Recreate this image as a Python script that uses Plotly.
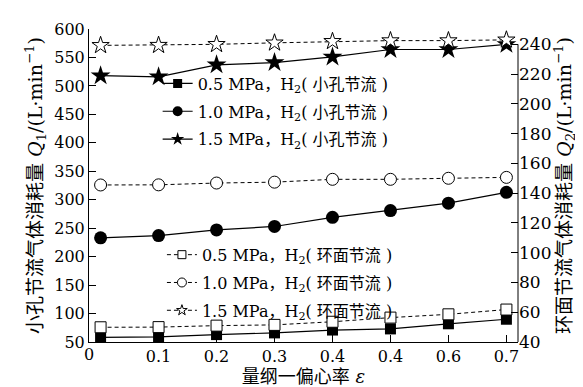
import plotly.graph_objects as go

# ---- data ----
eps_pos = [0, 1, 2, 3, 4, 5, 6, 7]
eps_labels = ["0", "0.1", "0.2", "0.3", "0.4", "0.4", "0.6", "0.7"]

orifice_05 = [58, 59, 63, 66, 71, 73, 82, 90]
orifice_10 = [233, 237, 247, 253, 269, 281, 294, 313]
orifice_15 = [518, 516, 537, 541, 551, 564, 564, 573]

annular_05 = [49.9, 50.0, 51.0, 51.5, 53.6, 56.4, 58.6, 61.8]
annular_10 = [145.5, 145.6, 146.8, 147.4, 149.3, 149.3, 150.0, 150.6]
annular_15 = [239.3, 239.4, 240.0, 241.0, 242.0, 242.5, 242.5, 243.0]

names_orifice = ["0.5 MPa，H<sub>2</sub>( 小孔节流 )",
                 "1.0 MPa，H<sub>2</sub>( 小孔节流 )",
                 "1.5 MPa，H<sub>2</sub>( 小孔节流 )"]
names_annular = ["0.5 MPa，H<sub>2</sub>( 环面节流 )",
                 "1.0 MPa，H<sub>2</sub>( 环面节流 )",
                 "1.5 MPa，H<sub>2</sub>( 环面节流 )"]

FONT = "DejaVu Serif, Noto Sans CJK SC, serif"

fig = go.Figure()

solid_sym = ["square", "circle", "star"]
solid_size = [11, 13, 15]
solid_leg_size = [9, 10, 10]
for i, ys in enumerate([orifice_05, orifice_10, orifice_15]):
    fig.add_trace(go.Scatter(
        x=eps_pos, y=ys, name=names_orifice[i], mode="lines+markers",
        line=dict(color="black", width=1.2),
        marker=dict(symbol=solid_sym[i], size=solid_size[i], color="black"),
        showlegend=False, yaxis="y"))

hollow_sym = ["square", "circle", "star"]
hollow_size = [11, 12, 13]
hollow_leg_size = [8, 9, 8]
for i, ys in enumerate([annular_05, annular_10, annular_15]):
    fig.add_trace(go.Scatter(
        x=eps_pos, y=ys, name=names_annular[i], mode="lines+markers",
        line=dict(color="black", width=1, dash="4px,3px"),
        marker=dict(symbol=hollow_sym[i], size=hollow_size[i],
                    color="white", line=dict(color="black", width=1)),
        showlegend=False, yaxis="y2"))

# legend entries (smaller symbols than the plotted marks)
for i in range(3):
    fig.add_trace(go.Scatter(
        x=[None], y=[None], name=names_orifice[i], mode="lines+markers",
        line=dict(color="black", width=1.2),
        marker=dict(symbol=solid_sym[i], size=solid_leg_size[i], color="black"),
        legend="legend", legendgroup=f"o{i}", yaxis="y"))
for i in range(3):
    fig.add_trace(go.Scatter(
        x=[None], y=[None], name=names_annular[i], mode="lines+markers",
        line=dict(color="black", width=1, dash="4px,3px"),
        marker=dict(symbol=hollow_sym[i], size=hollow_leg_size[i],
                    color="white", line=dict(color="black", width=1)),
        legend="legend2", legendgroup=f"a{i}", yaxis="y2"))

fig.update_layout(
    width=583, height=387,
    margin=dict(l=81, r=73, t=17, b=46),
    paper_bgcolor="white", plot_bgcolor="white",
    font=dict(family=FONT, size=16, color="black"),
    showlegend=True,
    xaxis=dict(
        range=[-0.2, 7.2], tickmode="array",
        tickvals=eps_pos[1:], ticktext=eps_labels[1:],
        ticks="inside", ticklen=7, tickcolor="black",
        showline=True, linecolor="black", linewidth=1, showgrid=False, zeroline=False,
        tickfont=dict(size=16),
        title=dict(text="量纲一偏心率 <i>ε</i>", font=dict(size=18), standoff=4)),
    yaxis=dict(
        range=[50, 600], dtick=50, ticks="inside", ticklen=7, tickcolor="black",
        showline=True, linecolor="black", linewidth=1, showgrid=False, zeroline=False,
        tickfont=dict(size=16),
        title=dict(text="小孔节流气体消耗量 <i>Q</i><sub>1</sub>/(L·min<sup>−1</sup>)",
                   font=dict(size=19), standoff=6)),
    yaxis2=dict(
        range=[40, 250.3], tickvals=[40, 60, 80, 100, 120, 140, 160, 180, 200, 220, 240],
        ticks="inside", ticklen=7, tickcolor="black", overlaying="y", side="right",
        showline=False, showgrid=False, zeroline=False, tickfont=dict(size=17),
        title=dict(text="环面节流气体消耗量 <i>Q</i><sub>2</sub>/(L·min<sup>−1</sup>)",
                   font=dict(size=19), standoff=4)),
    legend=dict(x=0.16, y=0.88, xanchor="left", yanchor="top",
                bgcolor="rgba(0,0,0,0)", font=dict(size=16), tracegroupgap=4,
                traceorder="grouped"),
    legend2=dict(x=0.17, y=0.333, xanchor="left", yanchor="top",
                 bgcolor="rgba(0,0,0,0)", font=dict(size=16), tracegroupgap=4,
                 traceorder="grouped"),
    annotations=[dict(text=eps_labels[0], x=-0.2, xref="x", y=0, yref="paper",
                      yanchor="top", yshift=-1, showarrow=False, font=dict(size=16))],
    shapes=[dict(type="line", xref="paper", yref="y2", x0=1, x1=1, y0=40, y1=240,
                 line=dict(color="black", width=1))],
)

fig.write_html("out.html")
